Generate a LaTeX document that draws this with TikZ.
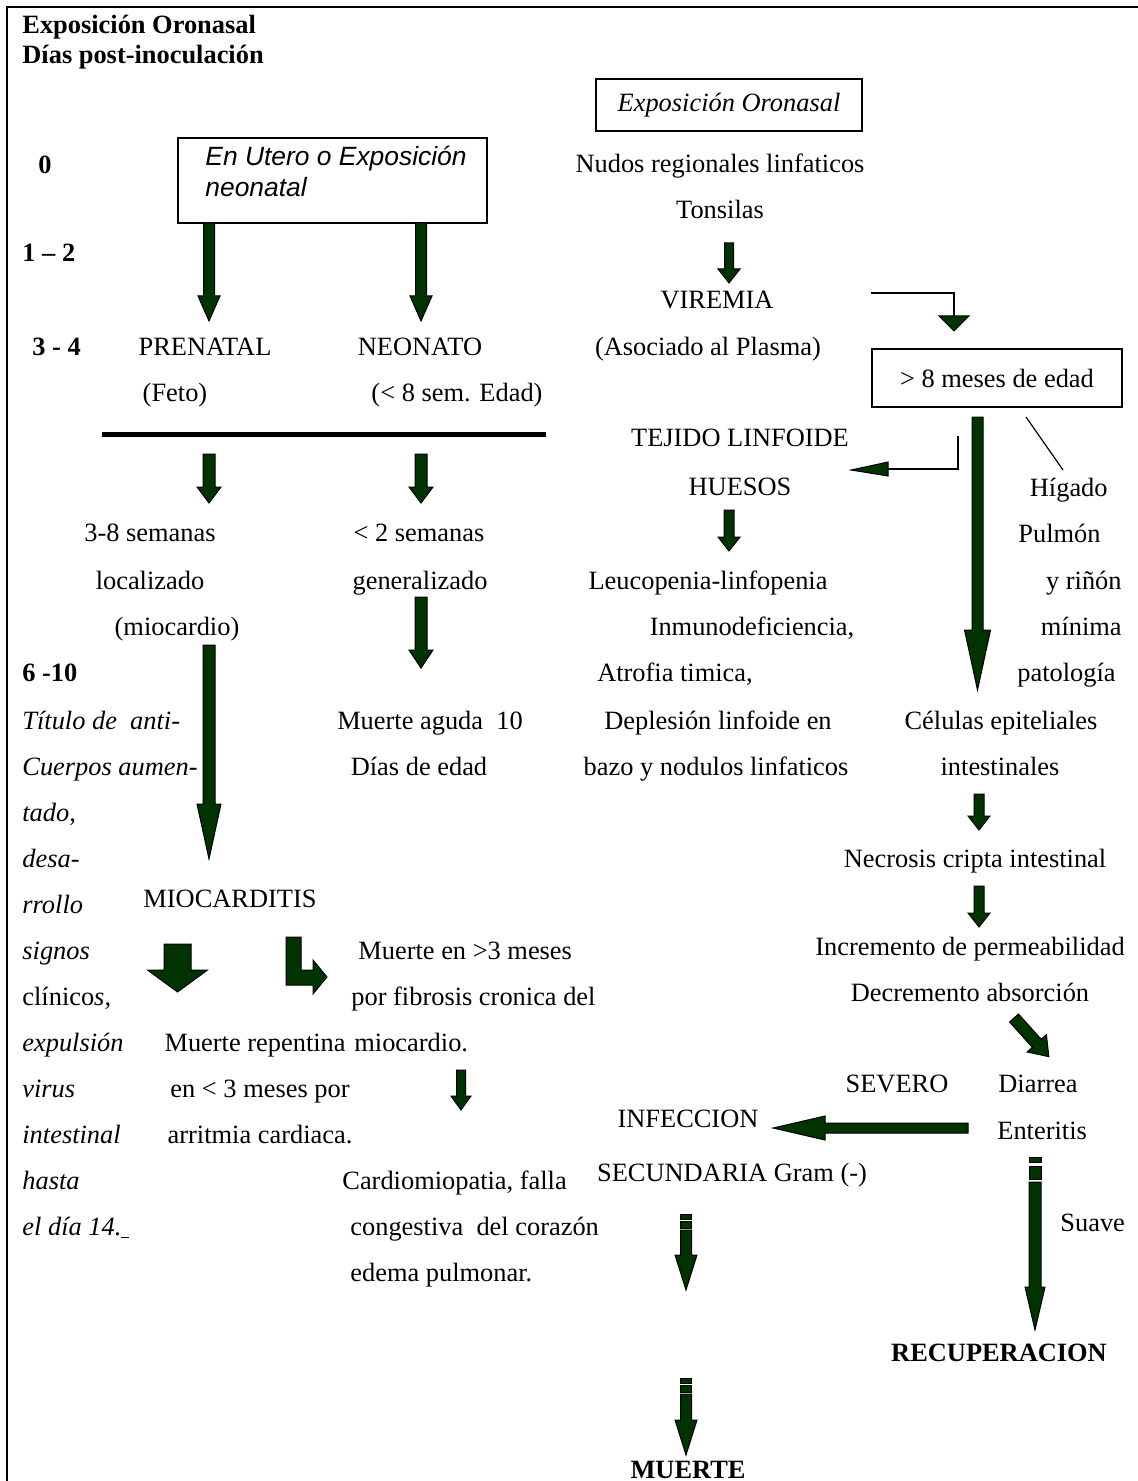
\documentclass[tikz,border=0pt]{standalone}
\usepackage{fontspec}
\setmainfont{Liberation Serif}
\newfontfamily\arialf{Liberation Sans}
\definecolor{dkgreen}{RGB}{0,51,0}
% block arrow pointing down: x, ytop, ytip, shaft half width, head half width, head length
\newcommand{\dnarr}[6]{%
  \filldraw[blk] ({#1-#4},#2) -- ({#1+#4},#2) -- ({#1+#4},{#3-#6}) -- ({#1+#5},{#3-#6})
    -- (#1,#3) -- ({#1-#5},{#3-#6}) -- ({#1-#4},{#3-#6}) -- cycle;}
% block arrow pointing left: y, xright, xtip, shaft half width, head half width, head length
\newcommand{\lfarr}[6]{%
  \filldraw[blk] (#2,{#1-#4}) -- (#2,{#1+#4}) -- ({#3+#6},{#1+#4}) -- ({#3+#6},{#1+#5})
    -- (#3,#1) -- ({#3+#6},{#1-#5}) -- ({#3+#6},{#1-#4}) -- cycle;}
\newcommand{\segbox}[4]{\filldraw[blk] ({#1-#4},#2) rectangle ({#1+#4},#3);}
\begin{document}
\begin{tikzpicture}[x=0.5pt,y=-0.5pt,
  every node/.style={inner sep=0pt, font=\fontsize{13.2}{15.8}\selectfont},
  tc/.style={anchor=base},
  tw/.style={anchor=base west},
  te/.style={anchor=base east},
  bf/.style={font=\fontsize{13.2}{15.8}\selectfont\bfseries},
  itf/.style={font=\fontsize{13.2}{15.8}\selectfont\itshape},
  sf/.style={font=\fontsize{13.2}{15.8}\selectfont\arialf\itshape},
  blk/.style={fill=dkgreen, draw=black, line width=0.5pt},
  thinln/.style={line width=0.6pt},
  boxst/.style={draw, line width=0.7pt}]
\useasboundingbox (0,0) rectangle (1138,1481);
\draw[line width=1pt] (6.5,1481) -- (6.5,7) -- (1138,7);

% headings
\node[tw,bf] (h1) at (22,34) {Exposición Oronasal};
\node[tw,bf] (h2) at (22,64) {Días post-inoculación};
\node[tc,bf] (d0) at (45,174) {0};
\node[tw,bf] (d12) at (22,262) {1 – 2};
\node[tw,bf] (d34) at (32,356) {3 - 4};
\node[tw,bf] (d610) at (22,681) {6 -10};

% boxes
\node[boxst, minimum width=133pt, minimum height=26pt, itf] (oro) at (729,105) {Exposición Oronasal};
\node[boxst, minimum width=154.5pt, minimum height=42.5pt] (utero) at (332.5,180.5) {};
\node[tw,sf] (ut1) at (205,166) {En Utero o Exposición};
\node[tw,sf] (ut2) at (205,197) {neonatal};
\node[boxst, minimum width=125pt, minimum height=29pt] (ocho) at (997,378) {> 8 meses de edad};

% middle column top
\node[tc] (nudos) at (720,173) {Nudos regionales linfaticos};
\node[tc] (tons) at (720,219) {Tonsilas};
\node[tc] (vir) at (717,309) {VIREMIA};
\node[tc] (aso) at (708,356) {(Asociado al Plasma)};
\node[tc] (tej) at (740,446) {TEJIDO LINFOIDE};
\node[tc] (hue) at (740,495) {HUESOS};
\node[tc] (leu) at (708,589) {Leucopenia-linfopenia};
\node[tc] (inm) at (752,635) {Inmunodeficiencia,};
\node[tc] (atr) at (675,681) {Atrofia timica,};
\node[tc] (dep) at (718,729) {Deplesión linfoide en};
\node[tc] (baz) at (716,775) {bazo y nodulos linfaticos};

% left columns
\node[tc] (pre) at (205,356) {PRENATAL};
\node[tc] (neo) at (420,356) {NEONATO};
\node[tc] (feto) at (175,401) {(Feto)};
\node[tc] (sem8) at (457,401) {(< 8 sem. Edad)};
\node[tc] (s38) at (150,541) {3-8 semanas};
\node[tc] (s2) at (419,541) {< 2 semanas};
\node[tc] (loc) at (150,589) {localizado};
\node[tc] (gen) at (420,589) {generalizado};
\node[tc] (mio) at (177,635) {(miocardio)};
\node[tc] (mag) at (430,729) {Muerte aguda \ 10};
\node[tc] (dde) at (419,775) {Días de edad};

% italic left column
\node[tw,itf] (c1) at (22,729) {Título de \ anti-};
\node[tw,itf] (c2) at (22,775) {Cuerpos aumen-};
\node[tw,itf] (c3) at (22,821) {tado,};
\node[tw,itf] (c4) at (22,867) {desa-};
\node[tw,itf] (c5) at (22,913) {rrollo};
\node[tw,itf] (c6) at (22,959) {signos};
\node[tw] (c7) at (22,1005) {clínico\textit{s,}};
\node[tw,itf] (c8) at (22,1051) {expulsión};
\node[tw,itf] (c9) at (22,1097) {virus};
\node[tw,itf] (c10) at (22,1143) {intestinal};
\node[tw,itf] (c11) at (22,1189) {hasta};
\node[tw,itf] (c12) at (22,1235) {el día 14.\underline{\hspace{4pt}}};

\node[tc] (miocard) at (230,907) {MIOCARDITIS};
\node[te] (mr1) at (346,1051) {Muerte repentina};
\node[tc] (mr2) at (260,1097) {en < 3 meses por};
\node[tc] (mr3) at (260,1143) {arritmia cardiaca.};
\node[tw] (m31) at (358,959) {Muerte en >3 meses};
\node[tw] (m32) at (351,1005) {por fibrosis cronica del};
\node[tw] (m33) at (354,1051) {miocardio.};
\node[tw] (cm1) at (342,1189) {Cardiomiopatia, falla};
\node[tw] (cm2) at (350,1235) {congestiva \ del corazón};
\node[tw] (cm3) at (350,1281) {edema pulmonar.};

% right column
\node[te] (hig) at (1108,496) {Hígado};
\node[te] (pul) at (1101,542) {Pulmón};
\node[te] (yri) at (1122,589) {y riñón};
\node[te] (min) at (1122,635) {mínima};
\node[te] (pat) at (1116,681) {patología};
\node[tc] (cel) at (1001,729) {Células epiteliales};
\node[tc] (int) at (1000,775) {intestinales};
\node[tc] (nec) at (975,867) {Necrosis cripta intestinal};
\node[tc] (incr) at (970,955) {Incremento de permeabilidad};
\node[tc] (decr) at (970,1001) {Decremento absorción};
\node[tc] (sev) at (897,1092) {SEVERO};
\node[tw] (dia) at (998,1092) {Diarrea};
\node[tw] (ent) at (997,1139) {Enteritis};
\node[tc] (inf) at (688,1127) {INFECCION};
\node[tc] (sec) at (732,1181) {SECUNDARIA Gram (-)};
\node[tw] (sua) at (1060,1231) {Suave};
\node[tc,bf] (rec) at (999,1361) {RECUPERACION};
\node[tc,bf] (muerte) at (688,1478) {MUERTE};

% thick separator
\draw[line width=2.5pt] (102,434) -- (546,434);

% thin connectors
\draw[thinln] (871,293) -- (954,293) -- (954,317);
\filldraw[blk] (939,316) -- (969,316) -- (954,331) -- cycle;
\draw[thinln] (958,436) -- (958,469) -- (888,469);
\filldraw[blk] (888,462) -- (888,476) -- (851,470) -- cycle;
\draw[thinln] (1026,417) -- (1063,470);

% block arrows
\dnarr{209}{223}{321}{5.5}{11}{25}
\dnarr{421}{223}{321}{5.5}{11}{25}
\dnarr{729}{243}{283}{4.5}{11}{14}
\dnarr{209}{454}{503}{6}{12}{16}
\dnarr{421}{454}{503}{6}{12}{16}
\dnarr{729}{510}{551}{5}{11}{14}
\dnarr{977.5}{417}{690}{5.5}{13}{60}
\dnarr{421}{597}{668}{6}{12}{18}
\dnarr{209}{645}{859}{6}{12}{55}
\dnarr{979}{794}{830}{5}{11}{14}
\dnarr{979}{886}{927}{5}{11}{14}
\dnarr{177.5}{944}{992}{13.5}{30}{22}
\filldraw[blk] (286,937) -- (301,937) -- (301,970) -- (313,970) -- (313,960) -- (327,977)
  -- (313,994) -- (313,985) -- (286,985) -- cycle;
\dnarr{461}{1070}{1110}{4.5}{10}{14}
\begin{scope}[shift={(1014,1018)}, rotate=42]
  \dnarr{0}{0}{52}{6}{13}{18}
\end{scope}
\lfarr{1128}{968}{773}{5}{12}{52}
\segbox{686}{1214}{1219}{5.5}
\segbox{686}{1221}{1228}{5.5}
\dnarr{686}{1230}{1290}{5.5}{11}{35}
\segbox{686}{1378}{1383}{5.5}
\segbox{686}{1385}{1392}{5.5}
\dnarr{686}{1394}{1455}{5.5}{11}{35}
\segbox{1035}{1157}{1162}{6}
\segbox{1035}{1166}{1179}{6}
\dnarr{1035}{1182}{1330}{6}{10}{43}
\end{tikzpicture}
\end{document}
